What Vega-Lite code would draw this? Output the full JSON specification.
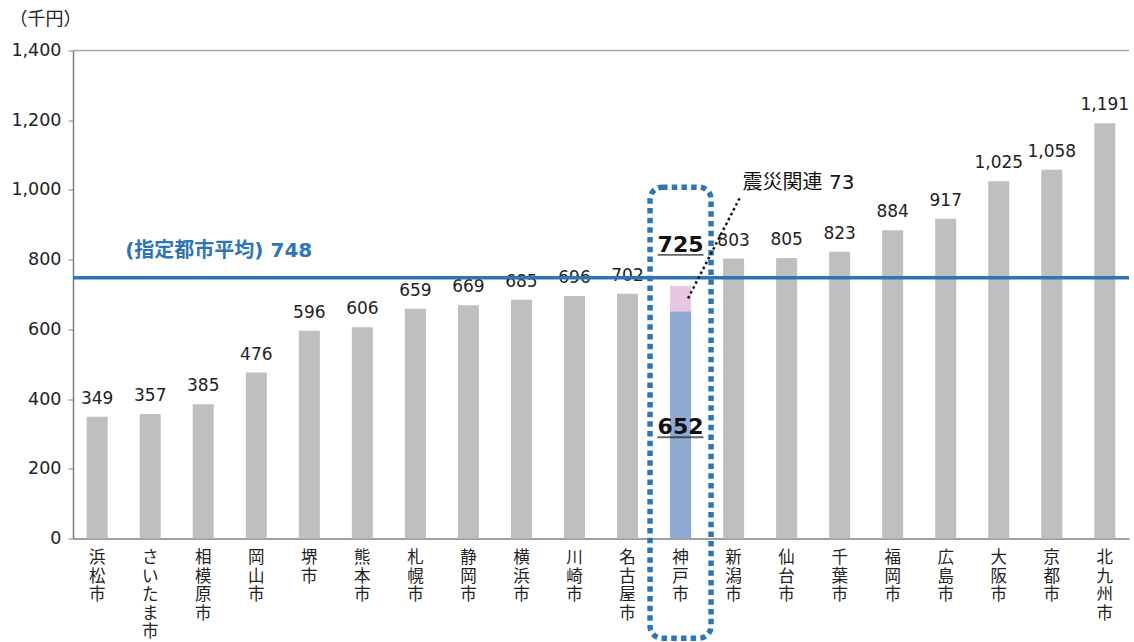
{
  "$schema": "https://vega.github.io/schema/vega-lite/v6.json",
  "width": 1056,
  "height": 488,
  "autosize": {"type": "none"},
  "padding": {"left": 73, "top": 50.5, "right": 5, "bottom": 103.5},
  "background": "white",
  "config": {
    "view": {"stroke": null},
    "font": "DejaVu Sans, Noto Sans CJK JP"
  },
  "datasets": {
    "cities": [
      {"city": "浜松市", "part": "一般", "value": 349},
      {"city": "さいたま市", "part": "一般", "value": 357},
      {"city": "相模原市", "part": "一般", "value": 385},
      {"city": "岡山市", "part": "一般", "value": 476},
      {"city": "堺市", "part": "一般", "value": 596},
      {"city": "熊本市", "part": "一般", "value": 606},
      {"city": "札幌市", "part": "一般", "value": 659},
      {"city": "静岡市", "part": "一般", "value": 669},
      {"city": "横浜市", "part": "一般", "value": 685},
      {"city": "川崎市", "part": "一般", "value": 696},
      {"city": "名古屋市", "part": "一般", "value": 702},
      {"city": "神戸市", "part": "本体", "value": 652},
      {"city": "神戸市", "part": "震災関連", "value": 73},
      {"city": "新潟市", "part": "一般", "value": 803},
      {"city": "仙台市", "part": "一般", "value": 805},
      {"city": "千葉市", "part": "一般", "value": 823},
      {"city": "福岡市", "part": "一般", "value": 884},
      {"city": "広島市", "part": "一般", "value": 917},
      {"city": "大阪市", "part": "一般", "value": 1025},
      {"city": "京都市", "part": "一般", "value": 1058},
      {"city": "北九州市", "part": "一般", "value": 1191}
    ],
    "average": [{"label": "(指定都市平均) 748", "value": 748}],
    "note": [{"label": "震災関連 73"}],
    "single": [{}]
  },
  "data": {"name": "cities"},
  "layer": [
    {
      "data": {"name": "single"},
      "mark": {"type": "rule", "color": "#a6a6a6", "strokeWidth": 1.5},
      "encoding": {"y": {"datum": 1400, "type": "quantitative"}}
    },
    {
      "mark": {"type": "bar"},
      "encoding": {
        "x": {
          "field": "city",
          "type": "nominal",
          "sort": null,
          "scale": {
            "domain": ["浜松市", "さいたま市", "相模原市", "岡山市", "堺市", "熊本市", "札幌市", "静岡市", "横浜市", "川崎市", "名古屋市", "神戸市", "新潟市", "仙台市", "千葉市", "福岡市", "広島市", "大阪市", "京都市", "北九州市"],
            "paddingInner": 0.604,
            "paddingOuter": 0.258
          },
          "axis": {
            "title": null,
            "domainColor": "#7f7f7f",
            "domainWidth": 1.5,
            "ticks": false,
            "labelAngle": 0,
            "labelExpr": "split(datum.label, '')",
            "labelFontSize": 16.5,
            "labelLineHeight": 18.5,
            "labelBaseline": "top",
            "labelPadding": 11,
            "labelColor": "#222222",
            "labelFont": "Noto Sans CJK JP"
          }
        },
        "y": {
          "field": "value",
          "type": "quantitative",
          "stack": "zero",
          "scale": {"domain": [0, 1400], "nice": false},
          "axis": {
            "title": "（千円）",
            "titleAngle": 0,
            "titleX": -64,
            "titleY": -31,
            "titleAlign": "left",
            "titleBaseline": "middle",
            "titleFontSize": 18,
            "titleFontWeight": "normal",
            "titleColor": "#222222",
            "titleFont": "Noto Sans CJK JP",
            "values": [0, 200, 400, 600, 800, 1000, 1200, 1400],
            "format": ",d",
            "grid": false,
            "domainColor": "#7f7f7f",
            "domainWidth": 1.5,
            "tickColor": "#7f7f7f",
            "tickSize": 5,
            "labelFontSize": 17.5,
            "labelPadding": 7,
            "labelColor": "#222222"
          }
        },
        "color": {
          "field": "part",
          "type": "nominal",
          "scale": {"domain": ["一般", "本体", "震災関連"], "range": ["#bfbfbf", "#8eaad2", "#e8c8e1"]},
          "legend": null
        },
        "order": {"field": "part", "sort": "ascending"}
      }
    },
    {
      "transform": [{"filter": "datum.city !== '神戸市'"}],
      "mark": {"type": "text", "baseline": "alphabetic", "dy": -13, "fontSize": 17, "color": "#222222"},
      "encoding": {
        "x": {"field": "city", "type": "nominal", "sort": null},
        "y": {"field": "value", "type": "quantitative"},
        "text": {"field": "value", "type": "quantitative", "format": ",d"}
      }
    },
    {
      "data": {"name": "average"},
      "layer": [
        {
          "mark": {"type": "rule", "color": "#2e75b6", "strokeWidth": 3.5},
          "encoding": {"y": {"field": "value", "type": "quantitative"}}
        },
        {
          "mark": {"type": "text", "align": "left", "baseline": "alphabetic", "dx": -25, "dy": -21, "fontSize": 20, "fontWeight": "bold", "color": "#2e75b6"},
          "encoding": {
            "x": {"datum": "さいたま市", "type": "nominal"},
            "y": {"field": "value", "type": "quantitative"},
            "text": {"field": "label"}
          }
        }
      ]
    },
    {
      "transform": [
        {"filter": "datum.city === '神戸市'"},
        {"aggregate": [{"op": "sum", "field": "value", "as": "total"}], "groupby": ["city"]}
      ],
      "layer": [
        {
          "mark": {"type": "text", "baseline": "middle", "dy": -41, "fontSize": 22, "fontWeight": "bold", "color": "#111111"},
          "encoding": {
            "x": {"field": "city", "type": "nominal", "sort": null},
            "y": {"field": "total", "type": "quantitative"},
            "text": {"field": "total", "type": "quantitative", "format": ",d"}
          }
        },
        {
          "mark": {"type": "tick", "orient": "horizontal", "size": 46, "thickness": 1.8, "yOffset": -31, "color": "#222222"},
          "encoding": {
            "x": {"field": "city", "type": "nominal", "sort": null},
            "y": {"field": "total", "type": "quantitative"}
          }
        }
      ]
    },
    {
      "transform": [{"filter": "datum.part === '本体'"}],
      "layer": [
        {
          "mark": {"type": "text", "baseline": "middle", "dy": 116, "fontSize": 22, "fontWeight": "bold", "color": "#111111"},
          "encoding": {
            "x": {"field": "city", "type": "nominal", "sort": null},
            "y": {"field": "value", "type": "quantitative"},
            "text": {"field": "value", "type": "quantitative", "format": ",d"}
          }
        },
        {
          "mark": {"type": "tick", "orient": "horizontal", "size": 46, "thickness": 1.8, "yOffset": 126, "color": "#222222"},
          "encoding": {
            "x": {"field": "city", "type": "nominal", "sort": null},
            "y": {"field": "value", "type": "quantitative"}
          }
        }
      ]
    },
    {
      "data": {"name": "single"},
      "mark": {"type": "bar", "width": 61, "fill": null, "fillOpacity": 0, "stroke": "#2e75b6", "strokeWidth": 5.5, "strokeDash": [5.5, 4.2], "cornerRadius": 12},
      "encoding": {
        "x": {"datum": "神戸市", "type": "nominal"},
        "y": {"datum": 1008, "type": "quantitative"},
        "y2": {"datum": -286}
      }
    },
    {
      "data": {"name": "note"},
      "layer": [
        {
          "mark": {"type": "rule", "color": "#111111", "strokeWidth": 2.5, "strokeDash": [2.5, 3], "xOffset": 7.5, "x2Offset": 6.5},
          "encoding": {
            "x": {"datum": "神戸市", "type": "nominal"},
            "x2": {"datum": "新潟市"},
            "y": {"datum": 689, "type": "quantitative"},
            "y2": {"datum": 979}
          }
        },
        {
          "mark": {"type": "text", "align": "left", "baseline": "middle", "dx": 9, "fontSize": 20, "color": "#111111"},
          "encoding": {
            "x": {"datum": "新潟市", "type": "nominal"},
            "y": {"datum": 1019, "type": "quantitative"},
            "text": {"field": "label"}
          }
        }
      ]
    }
  ]
}
